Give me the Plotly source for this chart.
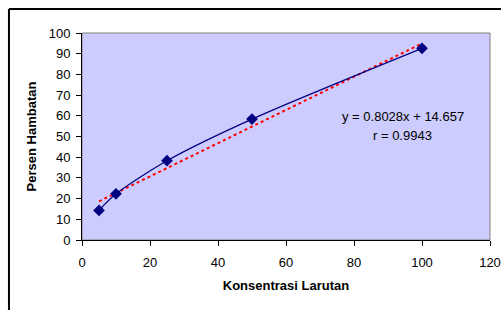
import plotly.graph_objects as go

# Data
konsentrasi = [5, 10, 25, 50, 100]
hambatan = [14.3, 22.3, 38.3, 58.4, 92.6]

# Linear trendline endpoints (y = 0.8028x + 14.657)
trend_x = [5, 100]
trend_y = [18.67, 94.94]

eq_text = "y = 0.8028x + 14.657"
r_text = "r = 0.9943"

x_ticks = [0, 20, 40, 60, 80, 100, 120]
y_ticks = [0, 10, 20, 30, 40, 50, 60, 70, 80, 90, 100]

FONT = "Liberation Sans, Arial, sans-serif"

fig = go.Figure()
fig.add_trace(go.Scatter(
    x=trend_x, y=trend_y, mode="lines",
    line=dict(color="#FF0000", width=2, dash="dot"),
    showlegend=False, hoverinfo="skip"))
fig.add_trace(go.Scatter(
    x=konsentrasi, y=hambatan, mode="lines+markers",
    line=dict(color="#000080", width=1.2, shape="spline", smoothing=0.8),
    marker=dict(symbol="diamond", size=9, color="#000080"),
    showlegend=False))

fig.add_annotation(x=94.4, y=59.6, text=eq_text, showarrow=False,
                   font=dict(family=FONT, size=13, color="black"))
fig.add_annotation(x=94.4, y=50.4, text=r_text, showarrow=False,
                   font=dict(family=FONT, size=13, color="black"))

# plot area border (gray) on top/right
fig.add_shape(type="rect", xref="paper", yref="paper", x0=0, x1=1, y0=0, y1=1,
              line=dict(color="#808080", width=1), layer="below")
# outer chart border (cropped: only left and top visible)
fig.add_shape(type="line", xref="paper", yref="paper", x0=-0.179, x1=-0.179,
              y0=1.116, y1=-0.4, line=dict(color="black", width=2))
fig.add_shape(type="line", xref="paper", yref="paper", x0=-0.179, x1=1.1,
              y0=1.116, y1=1.116, line=dict(color="black", width=2))

fig.update_layout(
    width=501, height=310,
    margin=dict(l=82, r=11, t=33, b=70, autoexpand=False),
    paper_bgcolor="white", plot_bgcolor="#CCCCFF",
    font=dict(family=FONT, size=13, color="black"),
)
fig.update_xaxes(
    range=[0, 120], tickvals=x_ticks, ticks="outside", ticklen=5, tickcolor="black",
    showline=True, linecolor="black", linewidth=1, showgrid=False, zeroline=False,
    ticklabelstandoff=5, automargin=False,
    title=dict(text="<b>Konsentrasi Larutan</b>", font=dict(size=13), standoff=12))
fig.update_yaxes(
    range=[0, 100], tickvals=y_ticks, ticks="outside", ticklen=5, tickcolor="black",
    showline=True, linecolor="black", linewidth=1, showgrid=False, zeroline=False,
    ticklabelstandoff=3, automargin=False,
    title=dict(text="<b>Persen Hambatan</b>", font=dict(size=13), standoff=9))

fig.write_html("out.html", config={"displayModeBar": False},
               post_script="document.body.style.margin='0px';document.body.style.overflow='hidden';")
